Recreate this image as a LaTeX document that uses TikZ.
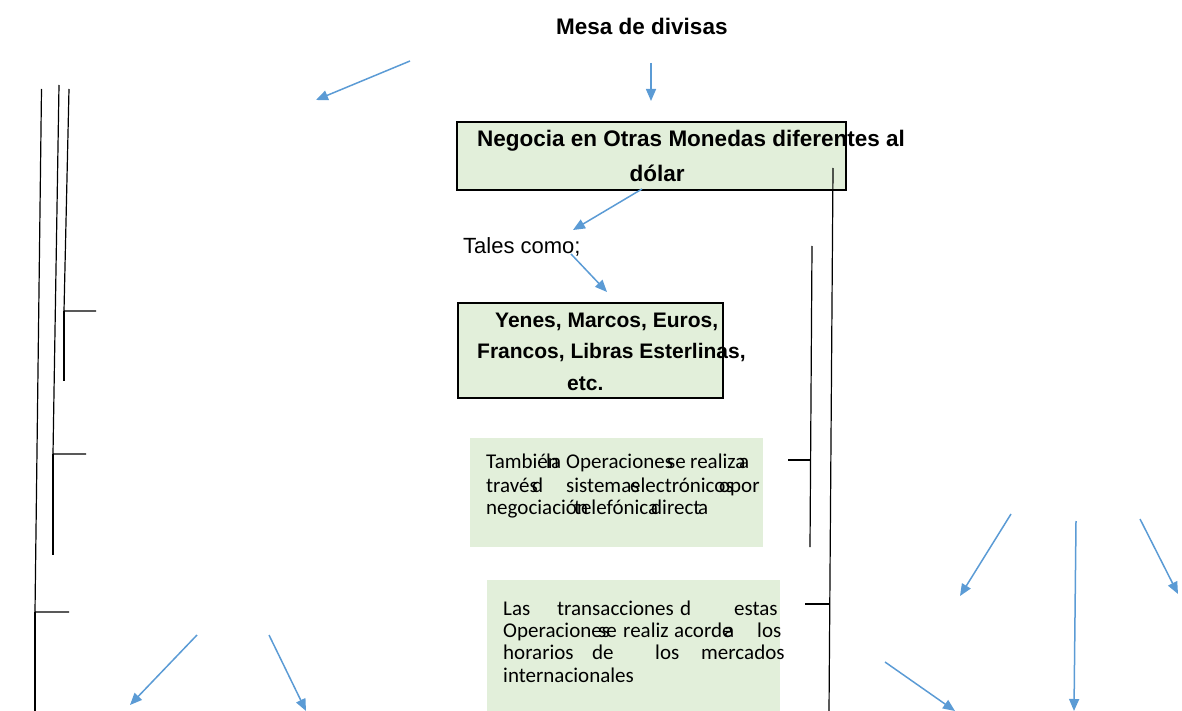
\documentclass[tikz,border=0pt]{standalone}
\usepackage{fontspec}
\setmainfont{Liberation Sans}
\newfontfamily\calibri{Carlito}
\usetikzlibrary{arrows.meta}
\definecolor{boxgreen}{HTML}{E2EFDA}
\definecolor{arrowblue}{HTML}{5B9BD5}

\begin{document}
\begin{tikzpicture}[x=1pt,y=-1pt,
    titletxt/.style={font=\fontsize{22.5}{27}\selectfont\bfseries, inner sep=0pt, anchor=base west},
    plaintxt/.style={font=\fontsize{22}{27}\selectfont, inner sep=0pt, anchor=base west},
    coin/.style={font=\fontsize{21}{25}\selectfont\bfseries, inner sep=0pt, anchor=base west},
    word/.style={font=\calibri\fontsize{21}{24}\selectfont, inner sep=0pt, anchor=base west},
    framedbox/.style={draw=black, line width=2pt, fill=boxgreen, inner sep=0pt},
    greenbox/.style={fill=boxgreen, inner sep=0pt},
    bracket/.style={line width=1.2pt},
    bluearrow/.style={draw=arrowblue, line width=1.5pt, -{Triangle[length=12pt,width=10pt]}}]
    \useasboundingbox (0,0) rectangle (1182,711);

    % boxes
    \node[framedbox, minimum width=389, minimum height=68] (negocia) at (651.5,156) {};
    \node[framedbox, minimum width=265, minimum height=95] (monedas) at (590,350.5) {};
    \node[greenbox, minimum width=293, minimum height=109] (tambien) at (616.5,492.5) {};
    \node[greenbox, minimum width=293, minimum height=131] (horarios) at (633.5,645.5) {};

    % texts
    \node[titletxt] (mesa) at (556,35) {Mesa de divisas};
    \node[titletxt] (neg1) at (477,147) {Negocia en Otras Monedas diferentes al};
    \node[titletxt, anchor=base] (neg2) at (657,182) {dólar};
    \node[plaintxt] (tales) at (463,253) {Tales como;};
    \node[coin] (mon1) at (495,327) {Yenes, Marcos, Euros,};
    \node[coin] (mon2) at (477,358) {Francos, Libras Esterlinas,};
    \node[coin] (mon3) at (567,390) {etc.};

    % texto que se realiza
    \node[word] (ta) at (486,468) {También};
    \node[word] (tb) at (546,468) {la};
    \node[word] (tc) at (566,468) {Operaciones};
    \node[word] (td) at (667,468) {se};
    \node[word] (te) at (690,468) {realiza};
    \node[word] (tf) at (739,468) {a};
    \node[word] (tg) at (486,492) {través};
    \node[word] (th) at (532,492) {d};
    \node[word] (ti) at (566,492) {sistemas};
    \node[word] (tj) at (630,492) {electrónicos};
    \node[word] (tk) at (719,492) {o};
    \node[word] (tl) at (730,492) {por};
    \node[word] (tm) at (486,514) {negociación};
    \node[word] (tn) at (574,514) {telefónica};
    \node[word] (to) at (651,514) {direct};
    \node[word] (tp) at (698,514) {a};

    % texto de los horarios
    \node[word] (ha) at (503,615) {Las};
    \node[word] (hb) at (557,615) {transacciones};
    \node[word] (hc) at (680,615) {d};
    \node[word] (hd) at (734,615) {estas};
    \node[word] (he) at (503,637) {Operaciones};
    \node[word] (hf) at (598,637) {se};
    \node[word] (hg) at (623,637) {realiz};
    \node[word] (hh) at (674,637) {acorde};
    \node[word] (hi) at (724,637) {a};
    \node[word] (hj) at (757,637) {los};
    \node[word] (hk) at (503,659) {horarios};
    \node[word] (hl) at (592,659) {de};
    \node[word] (hm) at (655,659) {los};
    \node[word] (hn) at (701,659) {mercados};
    \node[word] (ho) at (503,682) {internacionales};

    % brackets
    \draw[bracket] (41.5,89) -- (35,612) -- (69,612);
    \draw[line width=2pt] (35,612) -- (35,711);
    \draw[bracket] (59,85) -- (53,454) -- (86,454);
    \draw[line width=2pt] (53,454) -- (53,555);
    \draw[bracket] (69,89) -- (64,311) -- (96,311);
    \draw[line width=2pt] (64,311) -- (64,381);
    \draw[bracket] (833,168) -- (829,711);
    \draw[bracket] (805,604) -- (830,604);
    \draw[bracket] (812,246) -- (810,547);
    \draw[bracket] (788,460) -- (811,460);

    % arrows
    \coordinate (a1) at (410,61);   \coordinate (b1) at (316,100);
    \coordinate (a2) at (651,63);   \coordinate (b2) at (651,101);
    \coordinate (a3) at (642,189);  \coordinate (b3) at (573,230);
    \coordinate (a4) at (571,254);  \coordinate (b4) at (607,292);
    \coordinate (a5) at (197,635);  \coordinate (b5) at (130,705);
    \coordinate (a6) at (269,635);  \coordinate (b6) at (306,711);
    \coordinate (a7) at (1011,514); \coordinate (b7) at (960,596);
    \coordinate (a8) at (1076,521); \coordinate (b8) at (1074,711);
    \coordinate (a9) at (1140,519); \coordinate (b9) at (1178,594);
    \coordinate (a10) at (885,662); \coordinate (b10) at (955,711);
    \draw[bluearrow] (a1) -- (b1);
    \draw[bluearrow] (a2) -- (b2);
    \draw[bluearrow] (a3) -- (b3);
    \draw[bluearrow] (a4) -- (b4);
    \draw[bluearrow] (a5) -- (b5);
    \draw[bluearrow] (a6) -- (b6);
    \draw[bluearrow] (a7) -- (b7);
    \draw[bluearrow] (a8) -- (b8);
    \draw[bluearrow] (a9) -- (b9);
    \draw[bluearrow] (a10) -- (b10);
\end{tikzpicture}
\end{document}
